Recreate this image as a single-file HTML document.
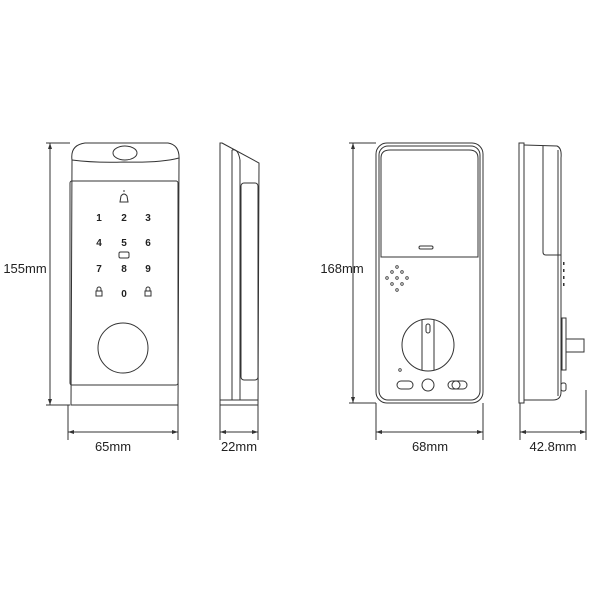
<!DOCTYPE html>
<html><head><meta charset="utf-8"><style>
html,body{margin:0;padding:0;background:#fff}
svg{display:block}
text{font-family:"Liberation Sans",Arial,sans-serif;fill:#222}
</style></head><body>
<svg width="600" height="600" viewBox="0 0 600 600" xmlns="http://www.w3.org/2000/svg">
<g fill="none" stroke="#333" stroke-width="1">
<!-- Front view -->
<path d="M72,160 Q70,145 85,143 L168,143 Q180,145 179,160 L178,405 L71,405 Z"/>
<path d="M72,160 Q95,163 124,162 Q160,163 179,158"/>
<ellipse cx="125" cy="153" rx="12" ry="7"/>
<rect x="70" y="181" width="108" height="204" rx="2"/>
<circle cx="123" cy="348" r="25"/>
<!-- dims -->
<line x1="50" y1="143" x2="50" y2="405"/>
<line x1="46" y1="143" x2="70" y2="143"/>
<line x1="46" y1="405" x2="70" y2="405"/>
<line x1="68" y1="405" x2="68" y2="440"/>
<line x1="178" y1="405" x2="178" y2="440"/>
<line x1="68" y1="432" x2="178" y2="432"/>
<!-- side 1 -->
<path d="M222,143 L259,163 L258,405 L220,405 L220,143 Z"/>
<line x1="232" y1="150" x2="232" y2="400"/>
<path d="M232,150 Q238,148 240,160"/>
<line x1="240" y1="160" x2="240" y2="400"/>
<rect x="241" y="183" width="17" height="197" rx="3"/>
<line x1="220" y1="400" x2="258" y2="400"/>
<line x1="220" y1="405" x2="220" y2="440"/>
<line x1="258" y1="405" x2="258" y2="440"/>
<line x1="220" y1="432" x2="258" y2="432"/>
<!-- back view -->
<rect x="376" y="143" width="107" height="260" rx="11"/>
<rect x="379" y="146" width="101" height="254" rx="9"/>
<path d="M381,257 L381,158 Q381,150 390,150 L469,150 Q478,150 478,158 L478,257 Z"/>
<rect x="419" y="246" width="14" height="3" rx="1.5"/>
<g stroke-width="0.8">
<circle cx="397" cy="267" r="1.3"/><circle cx="392" cy="272" r="1.3"/><circle cx="402" cy="272" r="1.3"/>
<circle cx="387" cy="278" r="1.3"/><circle cx="397" cy="278" r="1.3"/><circle cx="407" cy="278" r="1.3"/>
<circle cx="392" cy="284" r="1.3"/><circle cx="402" cy="284" r="1.3"/><circle cx="397" cy="290" r="1.3"/>
<circle cx="400" cy="370" r="1.3"/>
</g>
<circle cx="428" cy="345" r="26"/>
<path d="M422,320 L422,370 M434,320 L434,370"/>
<rect x="426" y="324" width="4" height="9" rx="2"/>
<rect x="397" y="381" width="16" height="8" rx="4"/>
<circle cx="428" cy="385" r="6"/>
<rect x="448" y="381" width="19" height="8" rx="4"/>
<circle cx="456" cy="385" r="4"/>
<line x1="353" y1="143" x2="353" y2="403"/>
<line x1="349" y1="143" x2="376" y2="143"/>
<line x1="349" y1="403" x2="376" y2="403"/>
<line x1="376" y1="403" x2="376" y2="440"/>
<line x1="483" y1="403" x2="483" y2="440"/>
<line x1="376" y1="432" x2="483" y2="432"/>
<!-- side 2 -->
<rect x="519" y="143" width="5" height="260"/>
<path d="M524,145 L557,146 Q562,148 561,158 L561,392 Q561,400 553,400 L524,400"/>
<line x1="558" y1="150" x2="558" y2="396"/>
<path d="M543,146 L543,252 Q543,255 546,255 L561,255"/>
<rect x="562" y="318" width="4" height="52"/>
<rect x="566" y="339" width="18" height="13"/>
<rect x="561" y="383" width="5" height="8" rx="2"/>
<line x1="520" y1="403" x2="520" y2="440"/>
<line x1="586" y1="390" x2="586" y2="440"/>
<line x1="520" y1="432" x2="586" y2="432"/>
</g>
<g fill="#333">
<path d="M50,143 l-2,6 h4z M50,405 l-2,-6 h4z M68,432 l6,-2 v4z M178,432 l-6,-2 v4z M220,432 l6,-2 v4z M258,432 l-6,-2 v4z M353,143 l-2,6 h4z M353,403 l-2,-6 h4z M376,432 l6,-2 v4z M483,432 l-6,-2 v4z M520,432 l6,-2 v4z M586,432 l-6,-2 v4z"/>
<rect x="563" y="262" width="1.5" height="3"/><rect x="563" y="269" width="1.5" height="3"/><rect x="563" y="276" width="1.5" height="3"/><rect x="563" y="283" width="1.5" height="3"/>
</g>
<g font-size="10" font-weight="bold" text-anchor="middle">
<text x="99" y="221">1</text><text x="124" y="221">2</text><text x="148" y="221">3</text>
<text x="99" y="246">4</text><text x="124" y="246">5</text><text x="148" y="246">6</text>
<text x="99" y="272">7</text><text x="124" y="272">8</text><text x="148" y="272">9</text>
<text x="124" y="297">0</text>
</g>
<g fill="none" stroke="#333" stroke-width="1">
<path d="M120,202 L121,196 Q124,192 127,196 L128,202 Z M124,192 v-2"/>
<rect x="119" y="252" width="10" height="6" rx="1.5"/>
<rect x="96" y="291" width="6" height="5"/><path d="M97,291 v-2 a2,2 0 0 1 4,0 v2"/>
<rect x="145" y="291" width="6" height="5"/><path d="M146,291 v-2 a2,2 0 0 1 4,0 v2"/>
</g>
<g font-size="13" text-anchor="middle">
<text x="25" y="273">155mm</text>
<text x="113" y="451">65mm</text>
<text x="239" y="451">22mm</text>
<text x="342" y="273">168mm</text>
<text x="430" y="451">68mm</text>
<text x="553" y="451">42.8mm</text>
</g>
</svg>
</body></html>
